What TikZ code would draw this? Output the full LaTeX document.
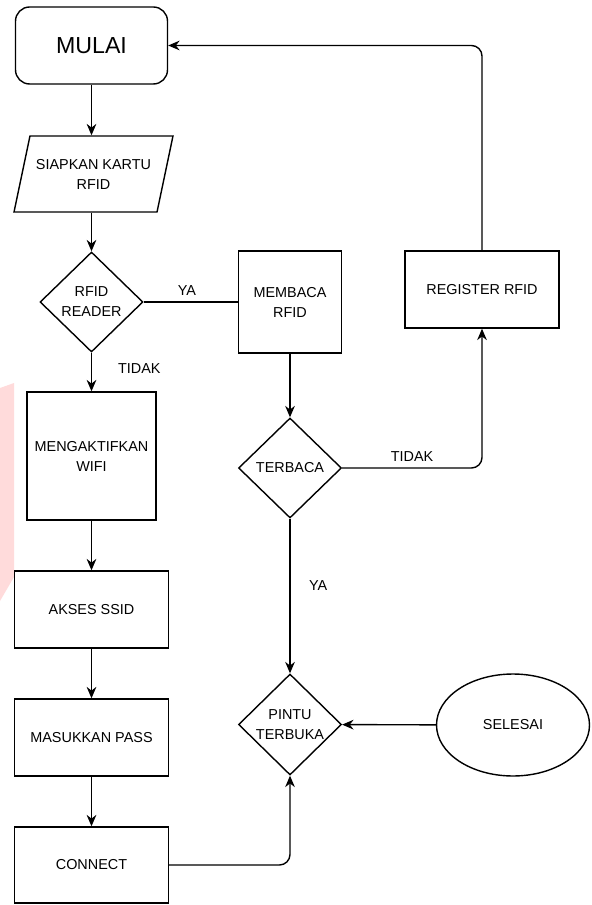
\documentclass[tikz,border=0pt]{standalone}
\usepackage{fontspec}
\setmainfont{Liberation Sans}
\usetikzlibrary{arrows.meta, positioning, shapes.geometric}
\tikzset{larrow/.style = {-{Stealth[length=6.5pt,width=5.5pt]}}}
\tikzset{box/.style = {draw, align=center, inner sep=1pt}}
\tikzset{cond/.style = {draw, diamond, align=center, inner sep=0pt,
    minimum width=2.06cm, minimum height=2cm}}

\begin{document}
\begin{tikzpicture}[x=0.02cm, y=-0.02cm, line width=0.8pt,
    font=\fontsize{8.2}{11.4}\selectfont]
    \useasboundingbox (0,0) rectangle (591,905);
    % watermark at the left edge
    \fill[red!14] (0,388) -- (14,383) -- (14,577) -- (0,601) -- cycle;

    \node[box,rounded corners=8pt,minimum width=3.04cm,minimum height=1.54cm,
        font=\fontsize{13.2}{15}\selectfont] (mulai) at (91.5,45.5) {MULAI};
    \node[draw,trapezium,trapezium stretches body=true,trapezium left angle=78,
        trapezium right angle=102,minimum width=3.18cm,minimum height=1.52cm,
        align=center,inner xsep=0pt,inner ysep=0.45cm] (siapkan) at (93.5,174) {SIAPKAN KARTU\\RFID};
    \node[cond] (reader) at (91.5,302) {RFID\\READER};
    \node[box,minimum width=2.06cm,minimum height=2.04cm] (membaca) at (290,302) {MEMBACA\\RFID};
    \node[box,minimum width=3.08cm,minimum height=1.54cm] (register) at (482,289.5) {REGISTER RFID};
    \node[cond] (terbaca) at (290,468) {TERBACA};
    \node[box,minimum width=2.58cm,minimum height=2.56cm] (aktif) at (91.5,456) {MENGAKTIFKAN\\WIFI};
    \node[box,minimum width=3.08cm,minimum height=1.54cm] (akses) at (91.5,609.5) {AKSES SSID};
    \node[box,minimum width=3.08cm,minimum height=1.54cm] (masuk) at (91.5,737.5) {MASUKKAN PASS};
    \node[box,minimum width=3.08cm,minimum height=1.52cm] (connect) at (91.5,865) {CONNECT};
    \node[cond,minimum height=2.02cm] (pintu) at (290,724.5) {PINTU\\TERBUKA};
    \node[draw,ellipse,minimum width=3.06cm,minimum height=2.04cm] (selesai) at (513,725) {SELESAI};

    \draw[larrow] (mulai) -- (mulai.south |- siapkan.north);
    \draw[larrow] (reader.north |- siapkan.south) -- (reader);
    \draw (reader) -- node[above,pos=.46] {YA} (membaca);
    \draw[larrow] (reader) -- node[right=.4cm,pos=.4] {TIDAK} (aktif);
    \draw[larrow] (membaca) -- (terbaca);
    \draw[larrow,rounded corners=6pt] (terbaca) -| node[above,pos=.25] {TIDAK} (register);
    \draw[larrow,rounded corners=6pt] (register) |- (mulai);
    \draw[larrow] (terbaca) -- node[right=.25cm,pos=.43] {YA} (pintu);
    \draw[larrow] (aktif) -- (akses);
    \draw[larrow] (akses) -- (masuk);
    \draw[larrow] (masuk) -- (connect);
    \draw[larrow,rounded corners=6pt] (connect) -| (pintu);
    \draw[larrow] (selesai) -- (pintu);
\end{tikzpicture}
\end{document}
